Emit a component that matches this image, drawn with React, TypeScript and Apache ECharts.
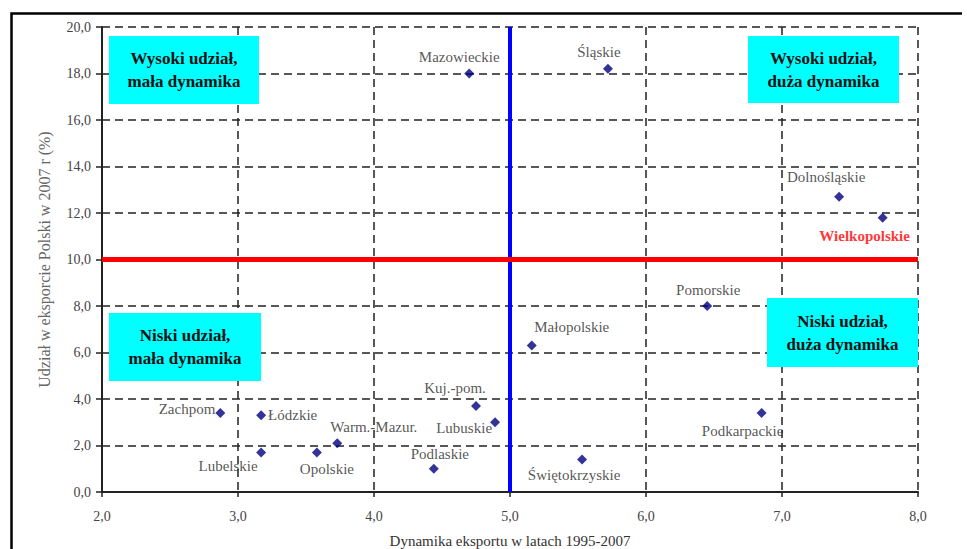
import React, { useEffect, useRef } from "react";
import * as echarts from "echarts";

// ---- Data ----
const regions = [
  "Mazowieckie", "Śląskie", "Dolnośląskie", "Wielkopolskie", "Pomorskie",
  "Małopolskie", "Podkarpackie", "Kuj.-pom.", "Lubuskie", "Podlaskie",
  "Świętokrzyskie", "Zachpom", "Łódzkie", "Lubelskie", "Opolskie", "Warm.-Mazur.",
];
const exportDynamics = [4.70, 5.72, 7.42, 7.74, 6.45, 5.16, 6.85, 4.75, 4.89, 4.44, 5.53, 2.87, 3.17, 3.17, 3.58, 3.73];
const exportShare = [18.0, 18.2, 12.7, 11.8, 8.0, 6.3, 3.4, 3.7, 3.0, 1.0, 1.4, 3.4, 3.3, 1.7, 1.7, 2.1];
const xTicks = { min: 2, max: 8, interval: 1 };
const yTicks = { min: 0, max: 20, interval: 2 };
const dynamicsThreshold = 5;
const shareThreshold = 10;
const highlighted = "Wielkopolskie";
const quadrantTexts = [
  "Wysoki udział,\nmała dynamika",
  "Wysoki udział,\nduża dynamika",
  "Niski udział,\nmała dynamika",
  "Niski udział,\nduża dynamika",
];
const xName = "Dynamika eksportu w latach 1995-2007";
const yName = "Udział w eksporcie Polski w 2007 r (%)";

// ---- Label placement (style) ----
const labelPlacement: Record<string, { position: string; offset: number[] }> = {
  "Mazowieckie": { position: "top", offset: [-10, 1] },
  "Śląskie": { position: "top", offset: [-9, 1] },
  "Dolnośląskie": { position: "top", offset: [-13, -2] },
  "Wielkopolskie": { position: "bottom", offset: [-18, 1] },
  "Pomorskie": { position: "top", offset: [1, 1] },
  "Małopolskie": { position: "top", offset: [40, -1] },
  "Podkarpackie": { position: "bottom", offset: [-19, 1] },
  "Kuj.-pom.": { position: "top", offset: [-21, 0] },
  "Lubuskie": { position: "left", offset: [7, 6] },
  "Podlaskie": { position: "top", offset: [6, 3] },
  "Świętokrzyskie": { position: "bottom", offset: [-8, -2] },
  "Zachpom": { position: "left", offset: [5, -4] },
  "Łódzkie": { position: "right", offset: [-3, 0] },
  "Lubelskie": { position: "bottom", offset: [-33, -4] },
  "Opolskie": { position: "bottom", offset: [10, -1] },
  "Warm.-Mazur.": { position: "right", offset: [-17, -16] },
};

const SERIF = "'Liberation Serif', 'Times New Roman', serif";
const fmt = (v: number) => v.toFixed(1).replace(".", ",");

function quadBox(x: number, y: number, w: number, h: number, text: string) {
  return {
    type: "group",
    x,
    y,
    z: 100,
    children: [
      { type: "rect", z: 100, shape: { x: 0, y: 0, width: w, height: h }, style: { fill: "#00ffff" } },
      {
        type: "text",
        z: 101,
        x: w / 2,
        y: h / 2,
        style: {
          text,
          fill: "#111",
          font: `bold 17px ${SERIF}`,
          align: "center",
          verticalAlign: "middle",
          lineHeight: 23,
        },
      },
    ],
  };
}

export default function App() {
  const ref = useRef<HTMLDivElement>(null);
  useEffect(() => {
    document.body.style.margin = "0";
    const chart = echarts.init(ref.current!, null, { renderer: "svg" });
    const points = regions.map((name, i) => {
      const p = labelPlacement[name];
      const isHi = name === highlighted;
      return {
        name,
        value: [exportDynamics[i], exportShare[i]],
        label: {
          show: true,
          formatter: name,
          position: p.position,
          offset: p.offset,
          color: isHi ? "#ff0000" : "#2a2a2a",
          fontWeight: isHi ? "bold" : "normal",
        },
      };
    });
    chart.setOption({
      animation: false,
      backgroundColor: "#fff",
      textStyle: { fontFamily: SERIF },
      grid: { left: 102, right: 49, top: 27, bottom: 57, containLabel: false, outerBoundsMode: "none" },
      xAxis: {
        type: "value",
        min: xTicks.min,
        max: xTicks.max,
        interval: xTicks.interval,
        name: xName,
        nameLocation: "middle",
        nameGap: 41,
        nameTextStyle: { color: "#333", fontSize: 15, fontFamily: SERIF },
        axisLine: { show: true, onZero: false, lineStyle: { color: "#222", width: 2 } },
        axisTick: { show: true, length: 5, lineStyle: { color: "#222", width: 1.5 } },
        axisLabel: { formatter: fmt, color: "#444", fontSize: 14, fontFamily: SERIF, margin: 17 },
        splitLine: { show: true, lineStyle: { color: "#222", width: 1.5, type: [8, 5] } },
      },
      yAxis: {
        type: "value",
        min: yTicks.min,
        max: yTicks.max,
        interval: yTicks.interval,
        name: yName,
        nameLocation: "middle",
        nameRotate: 90,
        nameGap: 50,
        nameTextStyle: { color: "#666", fontSize: 16, fontFamily: SERIF },
        axisLine: { show: true, onZero: false, lineStyle: { color: "#222", width: 2 } },
        axisTick: { show: true, length: 6, lineStyle: { color: "#222", width: 1.5 } },
        axisLabel: { formatter: fmt, color: "#444", fontSize: 14, fontFamily: SERIF, margin: 11 },
        splitLine: { show: true, lineStyle: { color: "#222", width: 1.5, type: [8, 5] } },
      },
      series: [
        {
          type: "scatter",
          symbol: "diamond",
          symbolSize: 10,
          itemStyle: { color: "#000080" },
          label: { fontSize: 15, fontFamily: SERIF },
          data: points,
          z: 10,
          markLine: {
            silent: true,
            symbol: "none",
            label: { show: false },
            data: [
              { xAxis: dynamicsThreshold, lineStyle: { color: "#0000ff", width: 4, type: "solid" } },
              { yAxis: shareThreshold, lineStyle: { color: "#ff0000", width: 5, type: "solid" } },
            ],
          },
        },
      ],
      graphic: [
        {
          type: "polyline",
          z: 110,
          shape: { points: [[11.5, 549], [11.5, 13.5], [962, 13.5]] },
          style: { stroke: "#000", lineWidth: 2.5, fill: null },
        },
        quadBox(109, 36, 150, 68, quadrantTexts[0]),
        quadBox(748, 36, 151, 67, quadrantTexts[1]),
        quadBox(109, 313, 152, 68, quadrantTexts[2]),
        quadBox(767, 298, 151, 69, quadrantTexts[3]),
      ],
    });
    return () => chart.dispose();
  }, []);
  return <div ref={ref} style={{ width: 967, height: 549 }} />;
}
